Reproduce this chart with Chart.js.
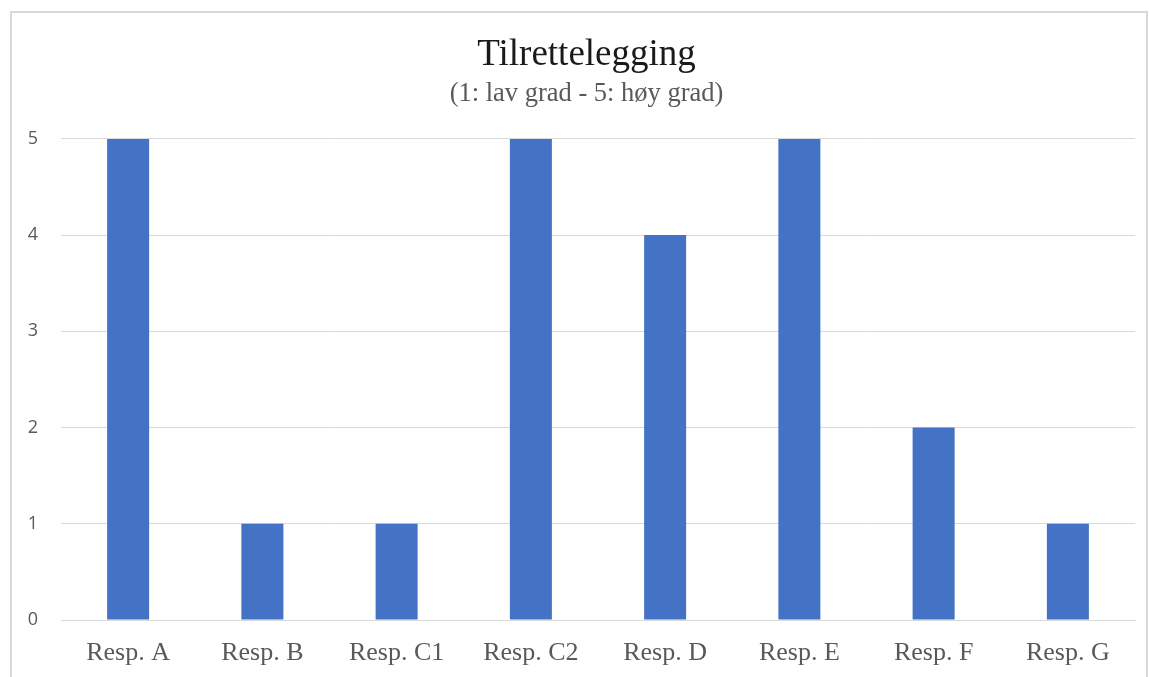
<!DOCTYPE html>
<html>
<head>
<meta charset="utf-8">
<script src="https://cdn.jsdelivr.net/npm/chart.js@4"></script>
<style>
html,body{margin:0;padding:0;background:#fff;overflow:hidden;}
#wrap{position:absolute;left:0;top:0;width:1150px;height:677px;}
</style>
</head>
<body>
<div id="wrap"><canvas id="c" width="1150" height="677"></canvas></div>
<script>
const categories = ["Resp. A","Resp. B","Resp. C1","Resp. C2","Resp. D","Resp. E","Resp. F","Resp. G"];
const values = [5,1,1,5,4,5,2,1];
const yTicks = [0,1,2,3,4,5];

const borderPlugin = {
  id: 'frame',
  beforeDraw(chart){
    const ctx = chart.ctx;
    ctx.save();
    ctx.fillStyle = '#fff';
    ctx.fillRect(0,0,chart.width,chart.height);
    ctx.strokeStyle = '#d9d9d9';
    ctx.lineWidth = 2;
    ctx.strokeRect(11, 12, 1136, 700);
    ctx.restore();
  },
  afterLayout(chart){
    chart.boxes.forEach(b => {
      if (b.options && typeof b.options.text === 'string') {
        b.left += 9; b.right += 9;
      }
    });
  }
};

new Chart(document.getElementById('c'), {
  type: 'bar',
  data: {
    labels: categories,
    datasets: [{
      data: values,
      backgroundColor: '#4472C4',
      borderWidth: 0,
      categoryPercentage: 1,
      barPercentage: 0.313
    }]
  },
  plugins: [borderPlugin],
  options: {
    responsive: false,
    animation: false,
    devicePixelRatio: 1,
    layout: { padding: { left: 20, right: 15, top: 0, bottom: 9 } },
    plugins: {
      legend: { display: false },
      tooltip: { enabled: false },
      title: {
        display: true,
        text: 'Tilrettelegging',
        color: '#1a1a1a',
        font: { family: 'Liberation Serif', size: 37, weight: 'normal', lineHeight: 1.2 },
        padding: { top: 33, bottom: 1 }
      },
      subtitle: {
        display: true,
        text: '(1: lav grad - 5: høy grad)',
        color: '#595959',
        font: { family: 'Liberation Serif', size: 26.5, weight: 'normal', lineHeight: 1.15 },
        padding: { top: 0, bottom: 30 }
      }
    },
    scales: {
      x: {
        grid: { display: false, drawTicks: false },
        border: { display: true, color: '#d9d9d9', width: 1 },
        ticks: {
          color: '#595959',
          padding: 18,
          maxRotation: 0,
          font: { family: 'Liberation Serif', size: 26 }
        },
        afterFit(s){ s.height = 48; }
      },
      y: {
        min: 0, max: 5,
        afterBuildTicks(s){ s.ticks = yTicks.map(v => ({ value: v })); },
        grid: { color: '#d9d9d9', drawTicks: false, lineWidth: 1 },
        border: { display: false },
        ticks: {
          color: '#595959',
          padding: 23,
          font: { family: 'Open Sans', size: 18 }
        },
        afterFit(s){ s.width = 41; }
      }
    }
  }
});
</script>
</body>
</html>
